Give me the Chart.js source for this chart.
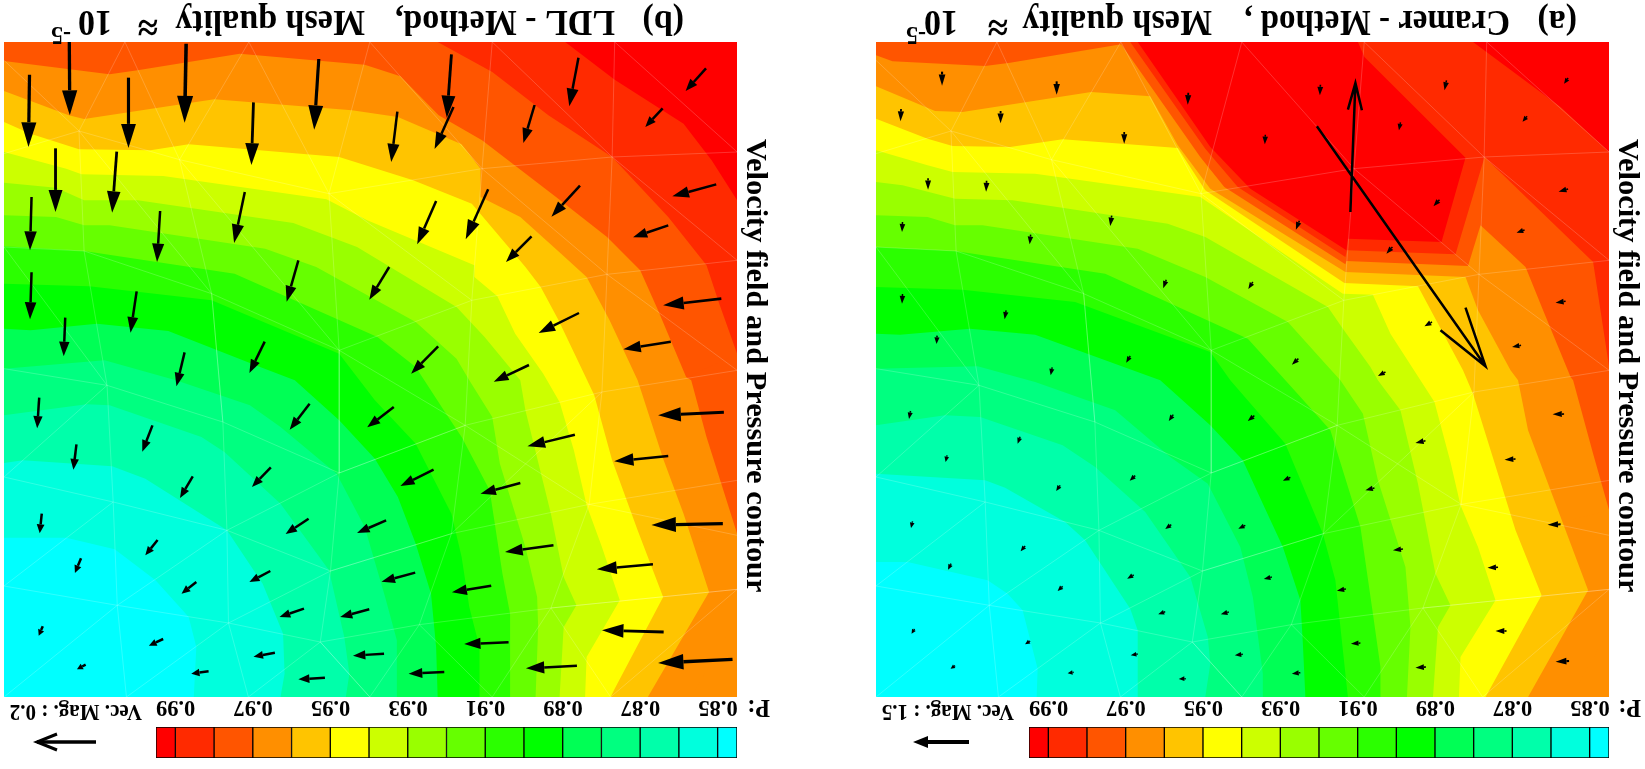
<!DOCTYPE html>
<html>
<head>
<meta charset="utf-8">
<script src="https://cdn.jsdelivr.net/npm/chart.js@4"></script>
<style>
    html, body { margin: 0; padding: 0; background: #fff; overflow: hidden; }
    canvas { position: absolute; }
</style>
</head>
<body>
<canvas id="contourB" width="800" height="700" style="left:0;top:0"></canvas>
<canvas id="contourA" width="785" height="700" style="left:860px;top:0"></canvas>
<canvas id="barB" width="800" height="72" style="left:0;top:697px"></canvas>
<canvas id="barA" width="785" height="72" style="left:860px;top:697px"></canvas>
<script>
// pressure levels, colour bar runs from low (cyan) to high (red)
const levelEdges = [0.845, 0.85, 0.86, 0.87, 0.88, 0.89, 0.90, 0.91, 0.92, 0.93, 0.94, 0.95, 0.96, 0.97, 0.98, 0.99, 0.995];
const tickValues = [0.85, 0.87, 0.89, 0.91, 0.93, 0.95, 0.97, 0.99];
const levelColors = ["#00ffff", "#00ffdd", "#00ffaa", "#00ff80", "#00ff55", "#00ff00", "#2bff00", "#66ff00",
    "#99ff00", "#ccff00", "#ffff00", "#ffc400", "#ff8f00", "#ff5500", "#ff2a00", "#ff0000"];

// plot extents in reading units
const yRange = [125, 2090];
const xRangeA = [32, 1497];
const xRangeB = [8, 1445];

// contour lines, from the highest pressure (red) down to the lowest (cyan)
const contoursA = [
    [[555,125],[700,440],[780,565],[972,750],[975,715],[1162,725],[1210,472],[1008,170],[995,125],[1225,125],[1400,320],[1497,455]],
    [[540,125],[690,445],[755,560],[970,770],[973,750],[1190,762],[1248,470],[1310,560],[1465,785],[1497,1100]],
    [[32,165],[65,183],[250,197],[300,187],[522,132],[680,470],[728,560],[970,792],[972,782],[1215,797],[1240,675],[1330,800],[1365,930],[1420,1130],[1425,1140],[1465,1360],[1497,1530],[1497,1890],[1420,2090]],
    [[32,258],[150,332],[205,335],[462,275],[580,288],[635,435],[700,565],[970,815],[1210,830],[1235,930],[1300,1110],[1315,1140],[1335,1290],[1385,1490],[1455,1770],[1335,2090]],
    [[32,355],[135,415],[185,437],[300,440],[405,417],[635,443],[690,570],[968,848],[1115,858],[1205,1110],[1225,1180],[1310,1590],[1362,1785],[1250,2090]],
    [[32,450],[135,495],[185,515],[350,520],[680,590],[965,880],[1025,883],[1060,1000],[1120,1140],[1148,1205],[1180,1385],[1200,1515],[1235,1640],[1270,1800],[1200,1970],[1197,2090]],
    [[32,545],[85,555],[190,595],[305,600],[615,670],[690,710],[935,920],[965,985],[1020,1100],[1035,1140],[1080,1230],[1115,1450],[1150,1720],[1180,1815],[1155,1880],[1145,2090]],
    [[32,645],[135,650],[190,675],[245,675],[555,745],[690,830],[855,965],[930,1090],[960,1140],[1005,1240],[1035,1440],[1090,1700],[1100,1880],[1093,2090]],
    [[32,740],[190,752],[490,820],[775,1015],[850,1140],[940,1290],[1000,1580],[1025,1840],[1040,2000],[1040,2090]],
    [[32,860],[205,868],[430,905],[700,1055],[740,1140],[850,1330],[925,1600],[950,1740],[975,2090]],
    [[32,1000],[80,1003],[220,985],[350,1003],[600,1140],[700,1275],[765,1380],[805,1510],[845,1640],[880,1800],[885,1930],[890,2090]],
    [[32,1105],[235,1098],[350,1145],[510,1230],[620,1370],[695,1450],[760,1640],[785,1790],[805,2020],[805,2090]],
    [[32,1275],[170,1245],[240,1250],[405,1335],[470,1400],[570,1535],[660,1730],[695,1910],[700,1990],[690,2090]],
    [[32,1420],[250,1440],[290,1462],[410,1565],[450,1620],[540,1825],[555,1890],[555,2090]],
    [[32,1685],[95,1685],[255,1740],[295,1780],[325,1830],[355,2005],[353,2090]],
];

const contoursB = [
    [[1108,125],[1205,238],[1340,370],[1395,480],[1445,600]],
    [[858,125],[965,215],[1075,345],[1200,470],[1310,650],[1385,795],[1410,910],[1445,1060],[1445,2075],[1440,2090]],
    [[8,182],[215,222],[270,210],[470,160],[715,193],[785,228],[860,345],[945,420],[1090,590],[1190,710],[1255,810],[1290,930],[1345,1130],[1355,1140],[1385,1310],[1445,1600],[1445,1850],[1355,2090]],
    [[8,272],[135,345],[165,356],[420,297],[690,330],[780,350],[905,432],[942,505],[942,590],[1020,650],[1100,760],[1150,830],[1195,960],[1250,1140],[1300,1375],[1340,1540],[1390,1775],[1270,2090]],
    [[8,365],[60,400],[155,447],[295,450],[370,432],[665,470],[810,540],[925,610],[1030,800],[1060,860],[1095,960],[1145,1120],[1165,1185],[1200,1380],[1250,1590],[1300,1790],[1205,2065],[1197,2090]],
    [[8,455],[130,505],[160,522],[320,527],[640,597],[720,660],[930,795],[930,830],[975,888],[1010,1000],[1065,1120],[1097,1205],[1125,1350],[1150,1515],[1180,1640],[1215,1800],[1150,1970],[1147,2090]],
    [[8,547],[110,562],[165,600],[270,600],[575,668],[700,740],[895,920],[950,1010],[1020,1140],[1030,1230],[1080,1540],[1105,1730],[1130,1815],[1105,1880],[1097,2090]],
    [[8,645],[110,650],[165,675],[215,675],[520,745],[620,800],[815,965],[895,1075],[920,1140],[965,1250],[980,1390],[1030,1640],[1053,1790],[1055,1880],[1050,2090]],
    [[8,738],[60,742],[165,752],[460,820],[740,1010],[815,1100],[870,1230],[905,1310],[960,1470],[985,1720],[1000,1840],[1000,2090]],
    [[8,850],[175,858],[415,900],[665,1060],[735,1200],[815,1330],[885,1540],[905,1670],[920,1820],[940,1940],[940,2090]],
    [[8,985],[60,990],[190,970],[330,992],[510,1100],[578,1140],[665,1260],[735,1375],[780,1490],[815,1630],[845,1780],[855,1940],[858,2090]],
    [[8,1105],[205,1080],[345,1140],[490,1215],[550,1280],[660,1420],[715,1580],[755,1790],[778,1920],[778,2090]],
    [[8,1245],[170,1212],[215,1215],[395,1310],[440,1355],[550,1510],[645,1710],[675,1910],[685,2020],[678,2090]],
    [[8,1388],[45,1380],[220,1398],[285,1435],[445,1590],[515,1750],[555,1900],[558,2020],[550,2090]],
    [[8,1612],[130,1612],[225,1647],[305,1740],[370,1850],[385,1940],[380,2090]],
];

// the mesh is the same in both panels, read on the xRangeB units
const meshLines = [
    [[8,460],[155,392],[352,478],[645,580],[945,505],[1200,470],[1445,455]],
    [[8,740],[165,752],[415,880],[665,1050],[925,900],[1190,822],[1445,780]],
    [[8,1105],[210,1155],[437,1265],[665,1418],[912,1275],[1180,1175],[1445,1110]],
    [[8,1430],[222,1505],[445,1590],[648,1712],[885,1600],[1155,1512],[1445,1440]],
    [[8,1757],[230,1815],[448,1868],[628,1925],[822,1873],[1080,1823],[1445,1767]],
    [[245,125],[155,392],[165,752],[210,1155],[222,1505],[230,1815],[248,2090]],
    [[488,125],[352,478],[415,880],[437,1265],[445,1590],[448,1868],[487,2090]],
    [[725,125],[645,580],[665,1050],[665,1418],[648,1712],[628,1925],[725,2090]],
    [[965,125],[945,505],[925,900],[912,1275],[885,1600],[822,1873],[965,2090]],
    [[1205,125],[1200,470],[1190,822],[1180,1175],[1155,1512],[1080,1823],[1197,2090]],
    [[8,2090],[230,1815],[445,1590],[665,1418],[912,1275]],
    [[248,2090],[448,1868],[648,1712],[885,1600],[1180,1175]],
    [[488,125],[645,580],[925,900]],
    [[725,125],[945,505],[1190,822],[1445,1110]],
    [[965,125],[1200,470],[1445,780]],
    [[1205,125],[1445,455]],
    [[245,125],[352,478],[665,1050],[912,1275],[1155,1512],[1445,1605]],
    [[8,180],[155,392],[415,880],[437,1265]],
    [[8,740],[210,1155],[8,1430]],
    [[8,1757],[222,1505]],
    [[965,2090],[1080,1823],[1445,1767],[1197,2090]],
    [[487,2090],[628,1925],[725,2090],[822,1873]],
];

// velocity vectors as tail x, tail y, tip x, tip y
const arrowsA = [
    [1415,233,1407,250],[1333,348,1324,364],[1172,240,1168,270],[920,253,919,285],[1080,366,1077,390],[810,403,809,432],
    [656,277,655,313],[393,243,393,283],[164,214,164,256],[82,326,81,363],[281,332,281,369],[528,395,528,430],
    [1415,566,1396,574],[1328,689,1312,697],[1158,598,1146,618],[878,661,871,688],[1064,740,1052,760],[1410,903,1390,907],
    [1143,965,1128,978],[1321,1035,1303,1040],[1050,1115,1035,1127],[876,1075,863,1093],[785,845,776,866],[612,838,606,864],
    [540,1067,532,1087],[503,646,500,677],[341,703,339,732],[253,541,252,574],[136,534,136,568],[85,665,84,695],
    [85,881,84,910],[292,930,289,957],[154,1006,153,1031],[384,1101,381,1125],[1407,1241,1384,1242],[1130,1321,1110,1328],
    [1310,1376,1288,1378],[788,1246,775,1262],[626,1243,617,1262],[860,1431,845,1441],[1028,1463,1010,1470],[1400,1572,1374,1573],
    [1085,1646,1065,1650],[1275,1701,1254,1702],[770,1575,756,1585],[622,1573,610,1586],[971,1766,953,1771],[823,1730,807,1736],
    [547,1724,534,1735],[550,1426,539,1441],[400,1455,392,1472],[320,1309,315,1330],[174,1365,171,1385],[101,1232,98,1256],
    [105,1563,102,1583],[330,1637,321,1653],[182,1690,176,1708],[405,1758,395,1772],[610,1834,596,1842],[737,1835,721,1842],
    [1292,1892,1270,1892],[1000,1928,981,1930],[765,1962,749,1965],[555,1961,541,1965],[427,2016,415,2019],[651,2035,637,2036],
    [880,2017,863,2020],[1131,2000,1110,2002],[1417,1982,1390,1984],[109,1886,103,1900],[340,1922,330,1932],[190,1996,181,2005],
];

const arrowsB = [
    [1384,204,1344,272],[1299,324,1265,380],[1134,172,1116,318],[885,162,876,352],[625,176,616,388],[365,130,362,367],
    [136,125,137,345],[58,223,56,440],[252,232,252,443],[497,306,493,494],[779,334,767,485],[889,320,852,446],
    [1048,314,1026,428],[1404,552,1318,588],[1310,675,1241,711],[1137,556,1081,649],[957,567,913,717],[855,602,818,732],
    [1042,708,992,785],[1414,895,1300,915],[1135,938,1056,998],[1315,1024,1222,1047],[1037,1094,968,1144],[859,1038,806,1120],
    [763,800,724,898],[585,780,562,904],[519,1024,489,1118],[480,575,459,728],[314,632,308,785],[229,454,220,637],
    [109,444,109,635],[62,590,59,750],[62,816,59,957],[268,873,256,997],[128,952,125,1068],[362,1056,346,1158],
    [1419,1236,1290,1245],[1127,1303,1034,1338],[1310,1367,1204,1383],[772,1220,720,1281],[607,1210,568,1288],[850,1408,785,1457],
    [1020,1448,942,1480],[1417,1570,1277,1574],[1085,1635,990,1655],[1280,1692,1170,1707],[757,1560,700,1598],[605,1555,560,1601],
    [963,1756,886,1776],[814,1717,748,1744],[530,1712,489,1745],[531,1401,494,1460],[378,1428,353,1493],[299,1275,279,1354],
    [150,1332,144,1408],[77,1192,73,1284],[82,1540,78,1599],[309,1619,285,1665],[159,1674,147,1718],[385,1745,356,1780],
    [596,1825,548,1850],[724,1827,667,1850],[1301,1895,1180,1890],[997,1926,910,1931],[753,1960,692,1966],[539,1957,497,1969],
    [1436,1977,1290,1988],[1131,1996,1031,2004],[871,2015,801,2020],[637,2032,585,2037],[409,2013,375,2020],[84,1878,76,1906],
    [320,1916,292,1936],[168,1993,151,2007],
];

// two outliers in panel (a), drawn open headed
const bigArrowsA = [
    [[980,635],[990,248]], [[975,328],[990,248],[1003,330]],
    [[913,378],[1250,1098]], [[1160,990],[1250,1098],[1210,922]],
];

function toPoints(line) {
    return line.map(function (p) { return { x: p[0], y: p[1] }; });
}

// polylines with a gap between them, so one dataset can hold many
function withGaps(lines) {
    const out = [];
    lines.forEach(function (line) {
        out.push(...toPoints(line));
        out.push({ x: null, y: null });
    });
    return out;
}

// the whole picture is upside down, so all text goes through this
const flipTextPlugin = {
    id: "flipText",
    afterDraw(chart, args, opts) {
        const ctx = chart.ctx;
        (opts.items || []).forEach(function (item) {
            ctx.save();
            ctx.translate(item.x, item.y);
            ctx.rotate(Math.PI);
            ctx.scale(1, 1.08); // letters in the scan are a bit tall
            ctx.font = "bold " + item.size + 'px "Liberation Serif"';
            ctx.fillStyle = "#000";
            ctx.textAlign = "left";
            ctx.textBaseline = "alphabetic";
            ctx.fillText(item.text, 0, 0);
            ctx.restore();
        });
    },
};

function drawArrow(ctx, x0, y0, x1, y1, headLen, headHalf, shaft) {
    const dx = x1 - x0, dy = y1 - y0;
    const len = Math.hypot(dx, dy);
    const ux = dx / len, uy = dy / len;
    const bx = x1 - ux * headLen, by = y1 - uy * headLen;
    ctx.beginPath();
    ctx.moveTo(x0, y0);
    ctx.lineTo(bx, by);
    ctx.lineWidth = shaft;
    ctx.strokeStyle = "#000";
    ctx.stroke();
    ctx.beginPath();
    ctx.moveTo(x1, y1);
    ctx.lineTo(bx - uy * headHalf, by + ux * headHalf);
    ctx.lineTo(bx + uy * headHalf, by - ux * headHalf);
    ctx.closePath();
    ctx.fillStyle = "#000";
    ctx.fill();
}

const vectorPlugin = {
    id: "vectors",
    afterDatasetsDraw(chart, args, opts) {
        const x = chart.scales.x, y = chart.scales.y;
        const ctx = chart.ctx;
        (opts.arrows || []).forEach(function (a) {
            const x0 = x.getPixelForValue(a[0]), y0 = y.getPixelForValue(a[1]);
            const x1 = x.getPixelForValue(a[2]), y1 = y.getPixelForValue(a[3]);
            const len = Math.hypot(x1 - x0, y1 - y0);
            drawArrow(ctx, x0, y0, x1, y1, Math.min(len, len * opts.head + opts.minHead),
                len * opts.half + opts.minHalf, Math.max(opts.minShaft, len * opts.shaft));
        });
    },
};

// legend vector next to the colour bar
const refArrowPlugin = {
    id: "refArrow",
    afterDraw(chart, args, opts) {
        const ctx = chart.ctx;
        ctx.save();
        if (opts.open) {
            ctx.strokeStyle = "#000";
            ctx.lineWidth = 3.5;
            ctx.beginPath();
            ctx.moveTo(opts.x1, opts.y);
            ctx.lineTo(opts.x0, opts.y);
            ctx.stroke();
            ctx.lineWidth = 3;
            ctx.beginPath();
            ctx.moveTo(opts.x0 + 20, opts.y - 8);
            ctx.lineTo(opts.x0, opts.y);
            ctx.lineTo(opts.x0 + 20, opts.y + 8);
            ctx.stroke();
        } else {
            drawArrow(ctx, opts.x1, opts.y, opts.x0, opts.y, 15, 6, 4);
        }
        ctx.restore();
    },
};

function contourChart(id, contours, xRange, cfg) {
    const xMin = xRange[0], xMax = xRange[1];
    const yMin = yRange[0], yMax = yRange[1];
    const bandColors = levelColors.slice().reverse();
    const datasets = [];

    // first band covers the plot, the others are painted over it
    const allLines = [[[xMin, yMin], [xMax, yMin]]].concat(
        contours.map(function (c) {
            return [[xMin, yMin]].concat(c, [[xMax, yMax]]);
        })
    );
    allLines.forEach(function (line, i) {
        datasets.push({
            data: toPoints(line),
            showLine: true,
            fill: "start",
            backgroundColor: bandColors[i],
            borderWidth: 0,
            pointRadius: 0,
            order: 100 - i,
        });
    });

    datasets.push({
        data: withGaps(meshLines),
        xAxisID: "xMesh",
        showLine: true,
        fill: false,
        borderColor: "rgba(255,255,255,0.38)",
        borderWidth: 0.5,
        pointRadius: 0,
        order: 2,
    });

    if (cfg.bigArrows) {
        datasets.push({
            data: withGaps(cfg.bigArrows),
            showLine: true,
            fill: false,
            borderColor: "#000",
            borderWidth: 2.5,
            pointRadius: 0,
            order: 1,
        });
    }

    return new Chart(document.getElementById(id).getContext("2d"), {
        type: "scatter",
        data: { datasets: datasets },
        options: {
            indexAxis: "x",
            responsive: false,
            animation: false,
            events: [],
            layout: { padding: cfg.padding },
            scales: {
                x: { type: "linear", display: false, min: xMin, max: xMax },
                xMesh: { type: "linear", display: false, min: xRangeB[0], max: xRangeB[1] },
                y: { type: "linear", display: false, min: yMin, max: yMax, reverse: true },
            },
            plugins: {
                legend: { display: false },
                tooltip: { enabled: false },
                title: {
                    display: true,
                    position: "right",
                    text: "Velocity field and Pressure contour ",
                    color: "#000",
                    padding: 0,
                    font: { family: "Liberation Serif", size: 30.4, weight: "bold", lineHeight: 1.18 },
                },
                vectors: cfg.vectors,
                flipText: { items: cfg.texts },
            },
        },
        plugins: [vectorPlugin, flipTextPlugin],
    });
}

function colorBar(id, cfg) {
    const datasets = levelColors.map(function (color, i) {
        return {
            data: [[levelEdges[i], levelEdges[i + 1]]],
            backgroundColor: color,
            borderColor: "#000",
            borderWidth: 1,
            borderSkipped: false,
            barPercentage: 1,
            categoryPercentage: 1,
            grouped: false,
        };
    });
    return new Chart(document.getElementById(id).getContext("2d"), {
        type: "bar",
        data: { labels: ["P"], datasets: datasets },
        options: {
            indexAxis: "y",
            responsive: false,
            animation: false,
            events: [],
            layout: { padding: cfg.padding },
            scales: {
                y: { display: false },
                x: {
                    type: "linear",
                    position: "top",
                    reverse: true,
                    min: levelEdges[0],
                    max: levelEdges[levelEdges.length - 1],
                    grid: { display: false },
                    border: { display: false },
                    afterBuildTicks: function (axis) {
                        axis.ticks = tickValues.map(function (v) { return { value: v }; });
                    },
                    afterFit: function (axis) { axis.height = 30; },
                    ticks: {
                        autoSkip: false,
                        minRotation: 180,
                        maxRotation: 180,
                        labelOffset: 20,
                        padding: 26,
                        color: "#000",
                        font: { family: "Liberation Serif", size: 22.5, weight: "bold" },
                        callback: function (v) { return v.toFixed(2); },
                    },
                },
            },
            plugins: {
                legend: { display: false },
                tooltip: { enabled: false },
                flipText: { items: cfg.texts },
                refArrow: cfg.refArrow,
            },
        },
        plugins: [flipTextPlugin, refArrowPlugin],
    });
}

document.addEventListener("DOMContentLoaded", function () {
    contourChart("contourB", contoursB, xRangeB, {
        padding: { left: 4, top: 42, right: 27, bottom: 3 },
        vectors: { arrows: arrowsB, head: 0.3, minHead: 3, half: 0.07, minHalf: 2.5, shaft: 0.045, minShaft: 2.5 },
        texts: [
            { text: "(b)", x: 684, y: 11, size: 34 },
            { text: "LDL - Method,", x: 615, y: 11, size: 34 },
            { text: "Mesh quality", x: 365, y: 11, size: 34 },
            { text: "≈", x: 158, y: 14, size: 37 },
            { text: "10", x: 112, y: 11, size: 34 },
            { text: "-5", x: 71, y: 27, size: 24 },
        ],
    });

    contourChart("contourA", contoursA, xRangeA, {
        padding: { left: 16, top: 42, right: 0, bottom: 3 },
        bigArrows: bigArrowsA,
        vectors: { arrows: arrowsA, head: 0.8, minHead: 0, half: 0.14, minHalf: 1.4, shaft: 0.15, minShaft: 1.5 },
        texts: [
            { text: "(a)", x: 717, y: 11, size: 34 },
            { text: "Cramer - Method ,", x: 650, y: 11, size: 33 },
            { text: "Mesh quality", x: 352, y: 11, size: 34 },
            { text: "≈", x: 148, y: 14, size: 37 },
            { text: "10", x: 98, y: 11, size: 34 },
            { text: "-5", x: 66, y: 27, size: 24 },
        ],
    });

    colorBar("barB", {
        padding: { left: 156, top: 0, right: 63, bottom: 11 },
        refArrow: { open: true, x0: 37, x1: 96, y: 45 },
        texts: [
            { text: "Vec. Mag. : 0.2", x: 142, y: 8, size: 21 },
            { text: "P:", x: 770, y: 3, size: 24 },
        ],
    });

    colorBar("barA", {
        padding: { left: 169, top: 0, right: 36, bottom: 11 },
        refArrow: { open: false, x0: 53, x1: 109, y: 45 },
        texts: [
            { text: "Vec. Mag. : 1.5", x: 154, y: 8, size: 21 },
            { text: "P:", x: 781, y: 3, size: 24 },
        ],
    });
});
</script>
</body>
</html>
